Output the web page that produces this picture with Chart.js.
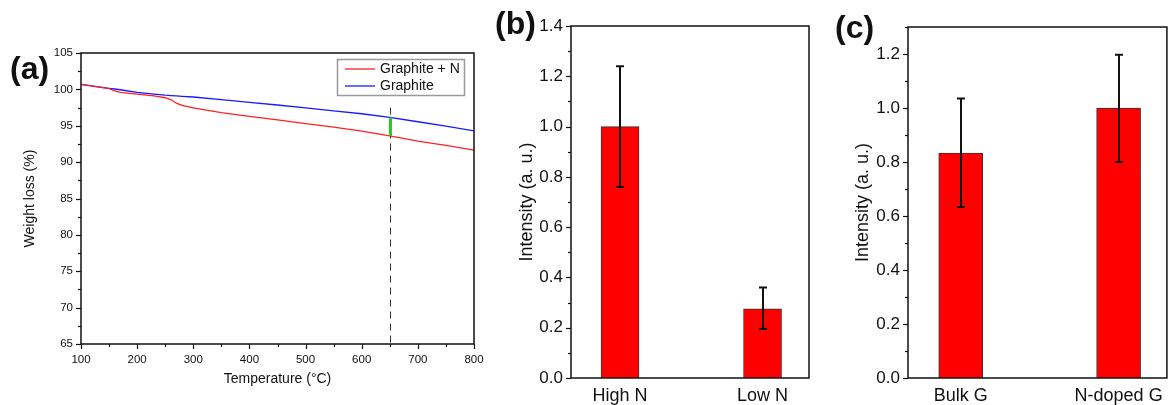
<!DOCTYPE html>
<html>
<head>
<meta charset="utf-8">
<script src="https://cdn.jsdelivr.net/npm/chart.js@4.4.1/dist/chart.umd.min.js"></script>
<style>
  body { margin: 0; background: #fff; }
  #wrap { position: relative; width: 1170px; height: 405px; overflow: hidden; font-family: "Liberation Sans", Arial, sans-serif; }
  .cv { position: absolute; top: 0; }
  .tag { position: absolute; font-weight: bold; font-size: 32px; line-height: 1; color: #111; }
</style>
</head>
<body>
<div id="wrap">
  <canvas id="chartA" class="cv" style="left:0px" width="500" height="405"></canvas>
  <canvas id="chartB" class="cv" style="left:480px" width="340" height="405"></canvas>
  <canvas id="chartC" class="cv" style="left:820px" width="350" height="405"></canvas>
  <div class="tag" style="left:10px;top:52px">(a)</div>
  <div class="tag" style="left:495px;top:7px">(b)</div>
  <div class="tag" style="left:835px;top:11px">(c)</div>
</div>
<script>
// ---- panel (a) data: TGA curves
var temps     = [100, 150, 160, 170, 200, 230, 250, 260, 270, 280, 300, 350, 400, 450, 500, 550, 600, 650, 700, 750, 800];
var graphiteN = [100.7, 100.1, 99.8, 99.6, 99.35, 99.1, 98.85, 98.6, 98.1, 97.8, 97.45, 96.8, 96.3, 95.8, 95.3, 94.8, 94.25, 93.6, 92.9, 92.3, 91.65];
var graphite  = [100.7, 100.15, 100.05, 99.95, 99.6, 99.35, 99.2, 99.15, 99.1, 99.05, 98.95, 98.6, 98.22, 97.85, 97.45, 97.05, 96.65, 96.15, 95.55, 94.95, 94.3];
var markTemp = 650;          // dashed guide
var markDash = [65, 97.5];   // dashed line from..to (weight %)
var markGap  = [93.6, 96.15];// green bar

// ---- panel (b)
var namesB = ["High N", "Low N"];
var posB   = [1, 2];
var valsB  = [1.0, 0.275];
var loB    = [0.76, 0.195];
var hiB    = [1.24, 0.36];

// ---- panel (c)
var namesC = ["Bulk G", "N-doped G"];
var posC   = [1, 2];
var valsC  = [0.833, 1.0];
var loC    = [0.633, 0.80];
var hiC    = [1.035, 1.197];

var FONT = "'Liberation Sans', Arial, sans-serif";
Chart.defaults.font.family = FONT;
Chart.defaults.color = "#111";

// box around plot + outward major/minor ticks
var framePlugin = {
  id: "frame",
  afterDatasetsDraw: function (chart, args, opts) {
    var ctx = chart.ctx, a = chart.chartArea;
    ctx.save();
    ctx.strokeStyle = "#111";
    ctx.lineWidth = 1.5;
    ctx.strokeRect(a.left, a.top, a.right - a.left, a.bottom - a.top);
    ctx.lineWidth = 1.2;
    if (opts.y) {
      var ys = chart.scales.y;
      for (var v = ys.min; v <= ys.max + 1e-9; v += opts.y / 2) {
        var k = Math.round((v - ys.min) / (opts.y / 2));
        var len = k % 2 === 0 ? 5 : 3;
        var py = Math.round(ys.getPixelForValue(v)) + 0.5;
        ctx.beginPath(); ctx.moveTo(a.left - len, py); ctx.lineTo(a.left, py); ctx.stroke();
      }
    }
    if (opts.x) {
      var xs = chart.scales.x;
      for (var u = xs.min; u <= xs.max + 1e-9; u += opts.x / 2) {
        var j = Math.round((u - xs.min) / (opts.x / 2));
        var l2 = j % 2 === 0 ? 5 : 3;
        var px = Math.round(xs.getPixelForValue(u)) + 0.5;
        ctx.beginPath(); ctx.moveTo(px, a.bottom); ctx.lineTo(px, a.bottom + l2); ctx.stroke();
      }
    }
    ctx.restore();
  }
};

// error bars for bar panels
var errPlugin = {
  id: "errbars",
  afterDatasetsDraw: function (chart, args, opts) {
    if (!opts.lo) return;
    var ctx = chart.ctx, ys = chart.scales.y;
    var meta = chart.getDatasetMeta(0);
    ctx.save();
    ctx.strokeStyle = "#111";
    ctx.lineWidth = 2;
    meta.data.forEach(function (bar, i) {
      var x = Math.round(bar.x);
      var y1 = ys.getPixelForValue(opts.lo[i]), y2 = ys.getPixelForValue(opts.hi[i]);
      ctx.beginPath();
      ctx.moveTo(x, y1); ctx.lineTo(x, y2);
      ctx.moveTo(x - 4, y1); ctx.lineTo(x + 4, y1);
      ctx.moveTo(x - 4, y2); ctx.lineTo(x + 4, y2);
      ctx.stroke();
    });
    ctx.restore();
  }
};

// guide lines + boxed legend for panel (a)
var guidePlugin = {
  id: "guide",
  afterDatasetsDraw: function (chart) {
    var ctx = chart.ctx, xs = chart.scales.x, ys = chart.scales.y, a = chart.chartArea;
    var x = Math.round(xs.getPixelForValue(markTemp)) + 0.5;
    ctx.save();
    ctx.strokeStyle = "#333";
    ctx.lineWidth = 1;
    ctx.setLineDash([7, 5]);
    ctx.beginPath();
    ctx.moveTo(x, ys.getPixelForValue(markDash[1]));
    ctx.lineTo(x, ys.getPixelForValue(markDash[0]));
    ctx.stroke();
    ctx.setLineDash([]);
    ctx.strokeStyle = "#22cc22";
    ctx.lineWidth = 3;
    ctx.beginPath();
    ctx.moveTo(x, ys.getPixelForValue(markGap[0]));
    ctx.lineTo(x, ys.getPixelForValue(markGap[1]));
    ctx.stroke();

    // legend
    var bw = 127, bh = 36;
    var bx = a.right - 10 - bw, by = a.top + 6;
    ctx.fillStyle = "#fff";
    ctx.fillRect(bx, by, bw, bh);
    ctx.strokeStyle = "#999";
    ctx.lineWidth = 1.5;
    ctx.strokeRect(bx + 0.5, by + 0.5, bw, bh);
    ctx.font = "14px " + FONT;
    ctx.textBaseline = "middle";
    chart.data.datasets.forEach(function (ds, i) {
      var ly = by + 10 + i * 17;
      ctx.strokeStyle = ds.borderColor;
      ctx.lineWidth = 1.3;
      ctx.beginPath(); ctx.moveTo(bx + 8, ly); ctx.lineTo(bx + 38, ly); ctx.stroke();
      ctx.fillStyle = "#111";
      ctx.fillText(ds.label, bx + 43, ly);
    });
    ctx.restore();
  }
};

function pts(xsArr, ysArr) {
  return xsArr.map(function (t, i) { return { x: t, y: ysArr[i] }; });
}

new Chart(document.getElementById("chartA"), {
  type: "line",
  data: {
    datasets: [
      { label: "Graphite + N", data: pts(temps, graphiteN), borderColor: "#ff2020", borderWidth: 1.3, pointRadius: 0 },
      { label: "Graphite", data: pts(temps, graphite), borderColor: "#1a1aff", borderWidth: 1.3, pointRadius: 0 }
    ]
  },
  options: {
    responsive: false, animation: false,
    layout: { padding: { left: 22, top: 53, right: 26, bottom: 17 } },
    plugins: { legend: { display: false }, tooltip: { enabled: false }, frame: { x: 100, y: 5 } },
    scales: {
      x: {
        type: "linear", min: 100, max: 800,
        grid: { display: false, tickLength: 0 }, border: { display: false },
        ticks: { stepSize: 100, padding: 9, font: { size: 11.5 }, color: "#111", maxRotation: 0 },
        title: { display: true, text: "Temperature (°C)", font: { size: 14 }, padding: 0, color: "#111" },
        afterFit: function (s) { s.height = 44; }
      },
      y: {
        min: 65, max: 105,
        grid: { display: false, tickLength: 0 }, border: { display: false },
        ticks: { stepSize: 5, padding: 8, font: { size: 11.5 }, color: "#111" },
        title: { display: true, text: "Weight loss (%)", font: { size: 14 }, padding: 0, color: "#111" },
        afterFit: function (s) { s.width = 59; }
      }
    }
  },
  plugins: [framePlugin, guidePlugin]
});

function barChart(id, names, pos, vals, lo, hi, opt) {
  return new Chart(document.getElementById(id), {
    type: "bar",
    data: {
      datasets: [{
        data: pts(pos, vals),
        backgroundColor: "#ff0000",
        borderColor: "#333",
        borderWidth: 1,
        barThickness: opt.barW
      }]
    },
    options: {
      responsive: false, animation: false,
      layout: { padding: { left: opt.padL, top: opt.padT, right: opt.padR, bottom: 0 } },
      plugins: { legend: { display: false }, tooltip: { enabled: false }, frame: { y: 0.2 }, errbars: { lo: lo, hi: hi } },
      scales: {
        x: {
          type: "linear", min: opt.xMin, max: opt.xMax, offset: false,
          grid: { display: false, tickLength: 0 }, border: { display: false },
          afterBuildTicks: function (s) { s.ticks = pos.map(function (p) { return { value: p }; }); },
          ticks: {
            padding: 7, font: { size: 18 }, color: "#111", maxRotation: 0, autoSkip: false,
            callback: function (v) { return names[pos.indexOf(v)]; }
          },
          afterFit: function (s) { s.height = 27; }
        },
        y: {
          min: 0, max: opt.yMax,
          grid: { display: false, tickLength: 0 }, border: { display: false },
          afterBuildTicks: function (s) {
            s.ticks = s.ticks.filter(function (t) { return Math.abs(t.value * 5 - Math.round(t.value * 5)) < 1e-6; });
          },
          ticks: {
            stepSize: 0.2, padding: 8, font: { size: 17 }, color: "#111",
            callback: function (v) { return v.toFixed(1); }
          },
          title: { display: true, text: "Intensity (a. u.)", font: { size: 18 }, padding: 0, color: "#111" },
          afterFit: function (s) { s.width = opt.yW; }
        }
      }
    },
    plugins: [framePlugin, errPlugin]
  });
}

barChart("chartB", namesB, posB, valsB, loB, hiB,
  { barW: 38, padL: 36, yW: 55, padT: 26, padR: 11, xMin: 0.656, xMax: 2.326, yMax: 1.4 });
barChart("chartC", namesC, posC, valsC, loC, hiC,
  { barW: 44, padL: 32, yW: 56, padT: 27, padR: 2, xMin: 0.666, xMax: 2.306, yMax: 1.3 });
</script>
</body>
</html>
